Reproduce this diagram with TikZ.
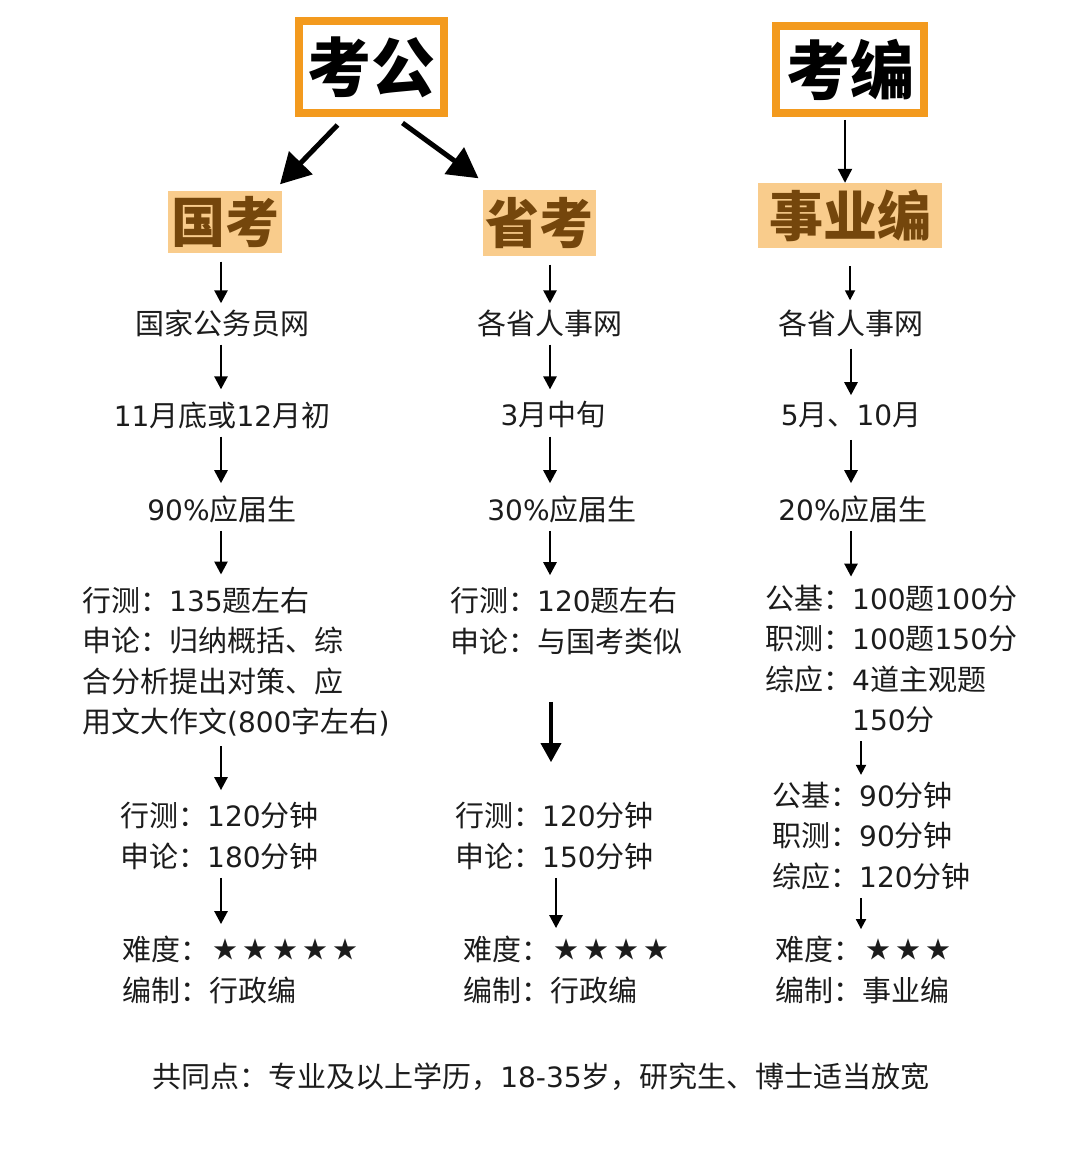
\documentclass[tikz,border=0pt]{standalone}
\usepackage{fontspec}
\usetikzlibrary{arrows.meta,calc}
\newfontfamily\cjk{Noto Sans CJK SC}
\newfontfamily\dv{DejaVu Sans}
\newcommand\N[1]{{\dv\fontsize{28}{40.5}\selectfont #1}}
\newcommand\St{\raisebox{2pt}{\cjk\fontsize{24}{40.5}\selectfont ★}}
\newcommand\Stars[1]{\hspace{4pt}\St\foreach\i in {2,...,#1}{\hspace{6pt}\St}}
\definecolor{orangeB}{HTML}{F39A1E}
\definecolor{fillO}{HTML}{F9CC8C}
\definecolor{brownT}{HTML}{74460C}
\definecolor{txt}{HTML}{1C1C1C}
\begin{document}
\begin{tikzpicture}[x=1pt,y=-1pt,
  body/.style={inner sep=0pt,font=\cjk\fontsize{29}{40.5}\selectfont,text=txt},
  blk/.style={body,align=left,anchor=west},
  topbox/.style={draw=orangeB,line width=8pt,fill=white,inner sep=0pt,font=\cjk\bfseries\fontsize{64}{70}\selectfont,text=black},
  subbox/.style={fill=fillO,inner sep=0pt,font=\cjk\bfseries\fontsize{54}{60}\selectfont,text=brownT},
  arr/.style={draw=black,line width=2.6pt,-{Triangle[length=13pt,width=13pt]}},
  thinarr/.style={draw=black,line width=1.8pt,-{Triangle[length=10pt,width=10pt]}},
  bigarr/.style={draw=black,line width=5pt,-{Triangle[length=30pt,width=32pt]}},
  midarr/.style={draw=black,line width=3.6pt,-{Triangle[length=19pt,width=20pt]}},
]
\useasboundingbox[fill=white] (0,0) rectangle (1080,1155);

% top boxes
\node[topbox,minimum width=145pt,minimum height=92pt] (kg) at (371.5,67) {考公};
\node[topbox,minimum width=148pt,minimum height=87pt] (kb) at (850,69.5) {考编};

% sub boxes
\node[subbox,minimum width=114pt,minimum height=62pt] (gk) at (225,222.5) {国考};
\node[subbox,minimum width=113pt,minimum height=66pt] (sk) at (539.5,223.5) {省考};
\node[subbox,minimum width=184pt,minimum height=65pt] (sy) at (850,215.5) {事业编};

% arrow x positions
\coordinate (L) at (221,0);
\coordinate (M) at (550,0);
\coordinate (M2) at (556,0);
\coordinate (R) at (851,0);
\coordinate (R2) at (861,0);

% left column
\node[body] (l1) at (222,323) {国家公务员网};
\node[body] (l2) at (222,415) {\N{11}月底或\N{12}月初};
\node[body] (l3) at (222,509) {\N{90\%}应届生};
\node[blk] (l4) at (82,661.5) {行测：\N{135}题左右\\申论：归纳概括、综\\合分析提出对策、应\\用文大作文\N{(800}字左右\N{)}};
\node[blk] (l5) at (120,836) {行测：\N{120}分钟\\申论：\N{180}分钟};
\node[blk] (l6) at (122,970) {难度：\Stars{5}\\编制：行政编};

% middle column
\node[body] (m1) at (550,323) {各省人事网};
\node[body] (m2) at (553,415) {\N{3}月中旬};
\node[body] (m3) at (562,509) {\N{30\%}应届生};
\node[blk] (m4) at (450,621) {行测：\N{120}题左右\\申论：与国考类似};
\node[blk] (m5) at (455,836) {行测：\N{120}分钟\\申论：\N{150}分钟};
\node[blk] (m6) at (463,970) {难度：\Stars{4}\\编制：行政编};

% right column
\node[body] (r1) at (851,323) {各省人事网};
\node[body] (r2) at (851,415) {\N{5}月、\N{10}月};
\node[body] (r3) at (853,509) {\N{20\%}应届生};
\node[blk] (r4) at (765,659) {公基：\N{100}题\N{100}分\\职测：\N{100}题\N{150}分\\综应：\N{4}道主观题\\\phantom{综应：}\N{150}分};
\node[blk] (r5) at (772,836) {公基：\N{90}分钟\\职测：\N{90}分钟\\综应：\N{120}分钟};
\node[blk] (r6) at (775,970) {难度：\Stars{3}\\编制：事业编};

% bottom
\node[body] (cm) at (541,1077) {共同点：专业及以上学历，\N{18-35}岁，研究生、博士适当放宽};

% big arrows from 考公 / 考编
\draw[bigarr] ([shift={(-34,8)}]kg.south) -- ([shift={(55,-7)}]gk.north);
\draw[bigarr] ([shift={(31,6)}]kg.south) -- ([shift={(-61,-12)}]sk.north);
\draw[draw=black,line width=2.2pt,-{Triangle[length=14pt,width=14pt]},shorten <=3pt] (kb.south -| 845,0) -- (sy.north -| 845,0);

% left arrows
\draw[arr,shorten <=8pt,shorten >=6pt] (gk.south -| L) -- (l1.north -| L);
\draw[arr,shorten <=8pt,shorten >=12pt] (l1.south -| L) -- (l2.north -| L);
\draw[arr,shorten <=8pt,shorten >=12pt] (l2.south -| L) -- (l3.north -| L);
\draw[arr,shorten <=8pt,shorten >=12pt] (l3.south -| L) -- (l4.north -| L);
\draw[arr,shorten <=10pt,shorten >=12pt] (l4.south -| L) -- (l5.north -| L);
\draw[arr,shorten <=8pt,shorten >=12pt] (l5.south -| L) -- (l6.north -| L);

% middle arrows
\draw[arr,shorten <=8pt,shorten >=6pt] (sk.south -| M) -- (m1.north -| M);
\draw[arr,shorten <=8pt,shorten >=12pt] (m1.south -| M) -- (m2.north -| M);
\draw[arr,shorten <=8pt,shorten >=12pt] (m2.south -| M) -- (m3.north -| M);
\draw[arr,shorten <=8pt,shorten >=12pt] (m3.south -| M) -- (m4.north -| M);
\draw[midarr,shorten <=47pt,shorten >=40pt] (m4.south -| 551,0) -- (m5.north -| 551,0);
\draw[arr,shorten <=8pt,shorten >=8pt] (m5.south -| M2) -- (m6.north -| M2);

% right arrows
\draw[thinarr,shorten <=18pt,shorten >=9pt] (sy.south -| 850,0) -- (r1.north -| 850,0);
\draw[arr,shorten <=12pt,shorten >=7pt] (r1.south -| R) -- (r2.north -| R);
\draw[arr,shorten <=12pt,shorten >=12pt] (r2.south -| R) -- (r3.north -| R);
\draw[arr,shorten <=8pt,shorten >=8pt] (r3.south -| R) -- (r4.north -| R);
\draw[thinarr,shorten <=8pt,shorten >=7pt] (r4.south -| R2) -- (r5.north -| R2);
\draw[thinarr,shorten <=8pt,shorten >=7pt] (r5.south -| R2) -- (r6.north -| R2);
\end{tikzpicture}
\end{document}
